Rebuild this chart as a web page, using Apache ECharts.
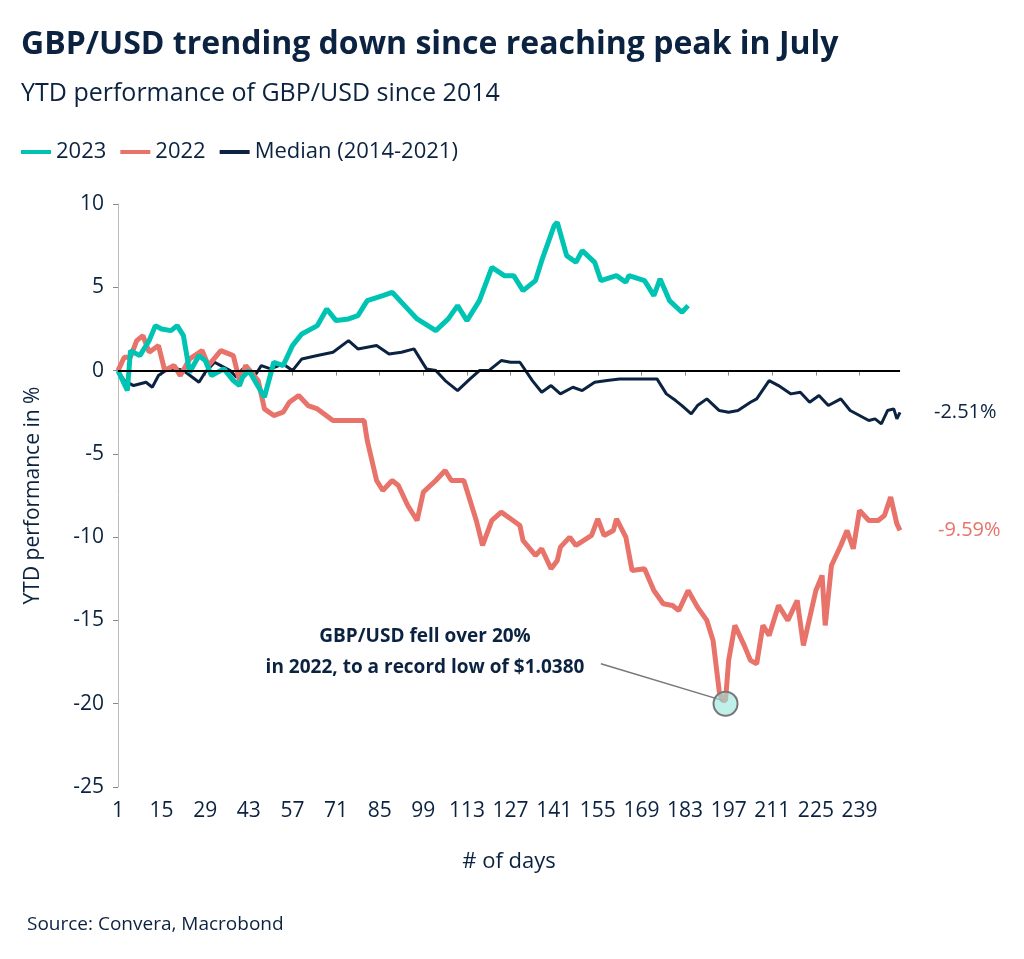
<!DOCTYPE html>
<html>
<head>
<meta charset="utf-8">
<script src="https://cdn.jsdelivr.net/npm/echarts@6/dist/echarts.min.js"></script>
<style>
  html, body { margin: 0; padding: 0; background: #fff; }
  #chart { width: 1024px; height: 959px; }
</style>
</head>
<body>
<div id="chart"></div>
<script>
// day numbers 1..252
var days = [];
for (var i = 1; i <= 252; i++) days.push(String(i));

// [day, YTD %]
var ytd2023 = [
  [1,0],[4,-1.2],[5,1.2],[8,0.9],[11,1.8],[13,2.7],[15,2.5],[18,2.4],[20,2.7],[22,2.1],
  [24,-0.1],[27,0.9],[29,0.6],[31,-0.3],[35,0.1],[38,-0.6],[40,-0.9],[41,-0.4],[43,0],
  [48,-1.6],[51,0.5],[54,0.3],[57,1.5],[60,2.2],[65,2.7],[68,3.7],[71,3.0],[75,3.1],
  [78,3.3],[81,4.2],[86,4.5],[89,4.7],[93,3.9],[97,3.1],[103,2.4],[107,3.1],[110,3.9],
  [113,3.0],[117,4.2],[121,6.2],[125,5.7],[128,5.7],[131,4.8],[135,5.4],[137,6.6],
  [141,8.7],[142,8.9],[145,6.9],[148,6.5],[150,7.2],[154,6.5],[156,5.4],[161,5.7],
  [164,5.3],[165,5.7],[170,5.4],[173,4.5],[175,5.5],[178,4.2],[182,3.5],[184,3.9]
];
var ytd2022 = [
  [1,0],[3,0.8],[5,0.8],[7,1.8],[9,2.1],[11,1.1],[14,1.5],[16,0],[19,0.3],[21,-0.3],
  [24,0.7],[28,1.2],[30,0.3],[34,1.2],[38,0.9],[40,-0.6],[42,0.3],[46,-0.6],[48,-2.3],
  [51,-2.7],[54,-2.5],[56,-1.9],[59,-1.5],[62,-2.1],[65,-2.3],[70,-3.0],[75,-3.0],
  [80,-3.0],[81,-4.2],[84,-6.6],[86,-7.2],[89,-6.6],[91,-6.9],[94,-8.1],[96,-8.7],
  [97,-9.0],[99,-7.3],[103,-6.6],[106,-6.0],[108,-6.6],[112,-6.6],[116,-9.0],[118,-10.5],
  [121,-9.0],[124,-8.5],[127,-8.9],[130,-9.3],[131,-10.2],[135,-11.1],[137,-10.7],
  [140,-11.9],[142,-11.4],[143,-10.6],[146,-10.0],[148,-10.5],[153,-9.9],[155,-8.9],
  [157,-9.9],[160,-9.6],[161,-8.9],[164,-10.0],[166,-12.0],[170,-11.9],[173,-13.2],
  [176,-14.0],[179,-14.1],[181,-14.4],[184,-13.2],[187,-14.2],[190,-15.0],[192,-16.2],
  [194,-19.3],[195,-19.8],[196,-19.8],[197,-17.4],[199,-15.3],[202,-16.5],[204,-17.4],
  [206,-17.6],[208,-15.3],[210,-15.9],[213,-14.1],[216,-15.0],[219,-13.8],[221,-16.5],
  [225,-13.2],[227,-12.3],[228,-15.3],[230,-11.7],[233,-10.5],[235,-9.6],[237,-10.7],
  [239,-8.4],[242,-9.0],[245,-9.0],[247,-8.7],[249,-7.6],[251,-9.2],[252,-9.59]
];
var median = [
  [1,0],[3,-0.6],[6,-0.9],[10,-0.7],[12,-1.0],[14,-0.3],[17,0.1],[20,0.1],[22,0],
  [27,-0.7],[29,-0.1],[32,0.5],[34,0.3],[37,0],[39,-0.4],[41,0.1],[45,-0.3],[47,0.3],
  [50,0.1],[54,0.4],[57,0],[60,0.7],[65,0.9],[70,1.1],[75,1.8],[78,1.3],[84,1.5],
  [88,1.0],[92,1.1],[96,1.3],[100,0.1],[103,0],[106,-0.6],[110,-1.2],[114,-0.5],
  [117,0],[120,0],[124,0.6],[127,0.5],[130,0.5],[134,-0.6],[137,-1.3],[140,-0.9],
  [143,-1.4],[147,-1.0],[150,-1.2],[154,-0.7],[158,-0.6],[162,-0.5],[166,-0.5],
  [169,-0.5],[174,-0.5],[177,-1.4],[180,-1.8],[182,-2.1],[185,-2.6],[187,-2.1],
  [190,-1.7],[194,-2.4],[197,-2.5],[200,-2.4],[204,-1.9],[206,-1.7],[210,-0.6],
  [213,-0.9],[217,-1.4],[220,-1.3],[223,-1.9],[226,-1.5],[229,-2.1],[233,-1.7],
  [236,-2.4],[239,-2.7],[242,-3.0],[244,-2.9],[246,-3.2],[248,-2.4],[250,-2.3],
  [251,-2.9],[252,-2.51]
];
var yTicks = [-25, -20, -15, -10, -5, 0, 5, 10];

var NAVY = '#0b2341', TEAL = '#00c4b3', RED = '#e8736a';
var FONT = 'Open Sans';

function toCat(arr) {
  return arr.map(function (p) { return [String(p[0]), p[1]]; });
}

var chart = echarts.init(document.getElementById('chart'));
chart.setOption({
  animation: false,
  textStyle: { fontFamily: FONT },
  title: [{
    text: 'GBP/USD trending down since reaching peak in July',
    left: 16, top: 24,
    textStyle: { fontSize: 32, fontWeight: 'bold', color: NAVY, fontFamily: FONT }
  }, {
    text: 'YTD performance of GBP/USD since 2014',
    left: 16, top: 76,
    textStyle: { fontSize: 25, fontWeight: 'normal', color: NAVY, fontFamily: FONT }
  }, {
    text: 'Source: Convera, Macrobond',
    left: 22, top: 910,
    textStyle: { fontSize: 19, fontWeight: 'normal', color: NAVY, fontFamily: FONT }
  }],
  legend: {
    left: 16, top: 136, itemWidth: 30, itemHeight: 4, itemGap: 14,
    icon: 'rect',
    textStyle: { fontSize: 22, color: NAVY, fontFamily: FONT },
    data: ['2023', '2022', 'Median (2014-2021)']
  },
  grid: { left: 118, right: 124, top: 204, bottom: 172, containLabel: false },
  xAxis: {
    type: 'category', data: days, boundaryGap: false,
    name: '# of days', nameLocation: 'middle', nameGap: 64,
    nameTextStyle: { fontSize: 22, color: NAVY },
    axisLine: { lineStyle: { color: '#bbb' } },
    axisTick: { interval: 13, lineStyle: { color: '#888' } },
    axisLabel: { interval: 13, fontSize: 21, color: NAVY, margin: 14 }
  },
  yAxis: {
    type: 'value', min: -25, max: 10, interval: 5,
    name: 'YTD performance in %', nameLocation: 'middle', nameGap: 74,
    nameTextStyle: { fontSize: 21, color: NAVY },
    axisLine: { show: true, lineStyle: { color: '#bbb' } },
    axisTick: { show: true, lineStyle: { color: '#888' } },
    splitLine: { show: false },
    axisLabel: { fontSize: 21, color: NAVY, margin: 14,
      formatter: function (v) { return yTicks.indexOf(v) >= 0 ? String(v) : ''; } }
  },
  series: [{
    name: '2023', type: 'line', data: toCat(ytd2023), showSymbol: false,
    lineStyle: { width: 5, color: TEAL }, itemStyle: { color: TEAL }, z: 3
  }, {
    name: '2022', type: 'line', data: toCat(ytd2022), showSymbol: false,
    lineStyle: { width: 5, color: RED }, itemStyle: { color: RED }, z: 2,
    endLabel: { show: true, distance: 38, formatter: '-9.59%', fontSize: 20, color: RED },
    markLine: {
      silent: true, symbol: 'none', label: { show: false },
      lineStyle: { color: '#777', width: 1.5, type: 'solid' },
      data: [[{ coord: ['156', -17.6] }, { coord: ['195', -19.8] }]]
    },
    markPoint: {
      silent: true, symbol: 'circle', symbolSize: 24,
      itemStyle: { color: 'rgba(150,230,220,0.6)', borderColor: '#777', borderWidth: 2 },
      label: { show: false },
      data: [{ coord: ['196', -20] }]
    }
  }, {
    name: 'Median (2014-2021)', type: 'line', data: toCat(median), showSymbol: false,
    lineStyle: { width: 3, color: NAVY }, itemStyle: { color: NAVY }, z: 1,
    endLabel: { show: true, distance: 34, formatter: '-2.51%', fontSize: 20, color: NAVY },
    markLine: {
      silent: true, symbol: 'none', label: { show: false },
      lineStyle: { color: '#000', width: 2, type: 'solid' },
      data: [{ yAxis: 0 }]
    }
  }],
  graphic: [{
    type: 'text', x: 425, y: 652,
    style: {
      text: 'GBP/USD fell over 20%\nin 2022, to a record low of $1.0380',
      align: 'center', verticalAlign: 'middle',
      fontSize: 19, fontWeight: 'bold', fill: NAVY, fontFamily: FONT, lineHeight: 31
    }
  }]
});
</script>
</body>
</html>
